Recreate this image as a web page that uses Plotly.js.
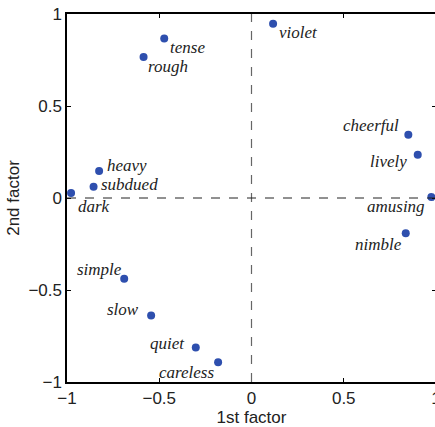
<!DOCTYPE html>
<html>
<head>
<meta charset="utf-8">
<script src="https://cdn.plot.ly/plotly-3.0.1.min.js"></script>
<style>
html,body{margin:0;padding:0;overflow:hidden;background:#fff;}
#chart{width:450px;height:427px;}
</style>
</head>
<body>
<div id="chart"></div>
<script>
// Data
var words = ["dark","subdued","heavy","rough","tense","violet","cheerful","lively","amusing","nimble","careless","quiet","slow","simple"];
var factor1 = [-0.978,-0.856,-0.826,-0.585,-0.473,0.117,0.850,0.901,0.975,0.836,-0.181,-0.302,-0.544,-0.690];
var factor2 = [0.027,0.061,0.147,0.766,0.867,0.947,0.344,0.235,0.005,-0.192,-0.893,-0.812,-0.638,-0.439];
var xTicks = [-1,-0.5,0,0.5,1];
var yTicks = [-1,-0.5,0,0.5,1];

function fmt(v){ return v < 0 ? "\u2212" + String(-v) : String(v); }

// Label placement (style)
var labelStyle = {
  dark:{a:"left",dx:5,dy:-13},
  subdued:{a:"left",dx:5,dy:2},
  heavy:{a:"left",dx:6,dy:5},
  rough:{a:"left",dx:2,dy:-9},
  tense:{a:"left",dx:4,dy:-9},
  violet:{a:"left",dx:4,dy:-9},
  cheerful:{a:"right",dx:-7,dy:9},
  lively:{a:"right",dx:-9,dy:-7},
  amusing:{a:"right",dx:-4,dy:-9},
  nimble:{a:"right",dx:-2,dy:-11},
  careless:{a:"right",dx:-2,dy:-10},
  quiet:{a:"right",dx:-9,dy:4},
  slow:{a:"right",dx:-10,dy:6},
  simple:{a:"right",dx:0,dy:9}
};

var annotations = words.map(function(w,i){
  var s = labelStyle[w];
  return {
    x: factor1[i], y: factor2[i], xref:"x", yref:"y",
    text: w, showarrow:false,
    xanchor: s.a, yanchor:"middle",
    xshift: s.dx, yshift: s.dy,
    font:{family:"Liberation Serif, Times New Roman, serif", size:17, style:"italic", color:"#222"}
  };
});

var trace = {
  x: factor1, y: factor2, mode:"markers", type:"scatter",
  marker:{size:8, color:"#2e4fae"},
  hoverinfo:"text", text: words
};

var axisCommon = {
  showgrid:false, zeroline:false,
  showline:true, linecolor:"#000", linewidth:1.6,
  mirror:"ticks", ticks:"inside", ticklen:4, tickwidth:1, tickcolor:"#000",
  tickfont:{family:"Liberation Sans, Arial, sans-serif", size:17, color:"#222"}
};

var layout = {
  width:450, height:427,
  margin:{l:67, r:14, t:14, b:45},
  paper_bgcolor:"#fff", plot_bgcolor:"#fff",
  showlegend:false,
  xaxis: Object.assign({}, axisCommon, {
    range:[-1,1], tickvals:xTicks, ticktext:xTicks.map(fmt),
    title:{text:"1st factor", font:{family:"Liberation Sans, Arial, sans-serif", size:17, color:"#222"}, standoff:2}
  }),
  yaxis: Object.assign({}, axisCommon, {
    range:[-1,1], tickvals:yTicks, ticktext:yTicks.map(fmt),
    title:{text:"2nd factor", font:{family:"Liberation Sans, Arial, sans-serif", size:17, color:"#222"}, standoff:4}
  }),
  shapes:[
    {type:"line", xref:"x", yref:"paper", x0:0, x1:0, y0:0, y1:1, line:{color:"#666", width:1.2, dash:"dash"}},
    {type:"line", xref:"paper", yref:"y", x0:0, x1:1, y0:0, y1:0, line:{color:"#222", width:1, dash:"dash"}}
  ],
  annotations: annotations
};

Plotly.newPlot("chart", [trace], layout, {displayModeBar:false, staticPlot:true});
</script>
</body>
</html>
